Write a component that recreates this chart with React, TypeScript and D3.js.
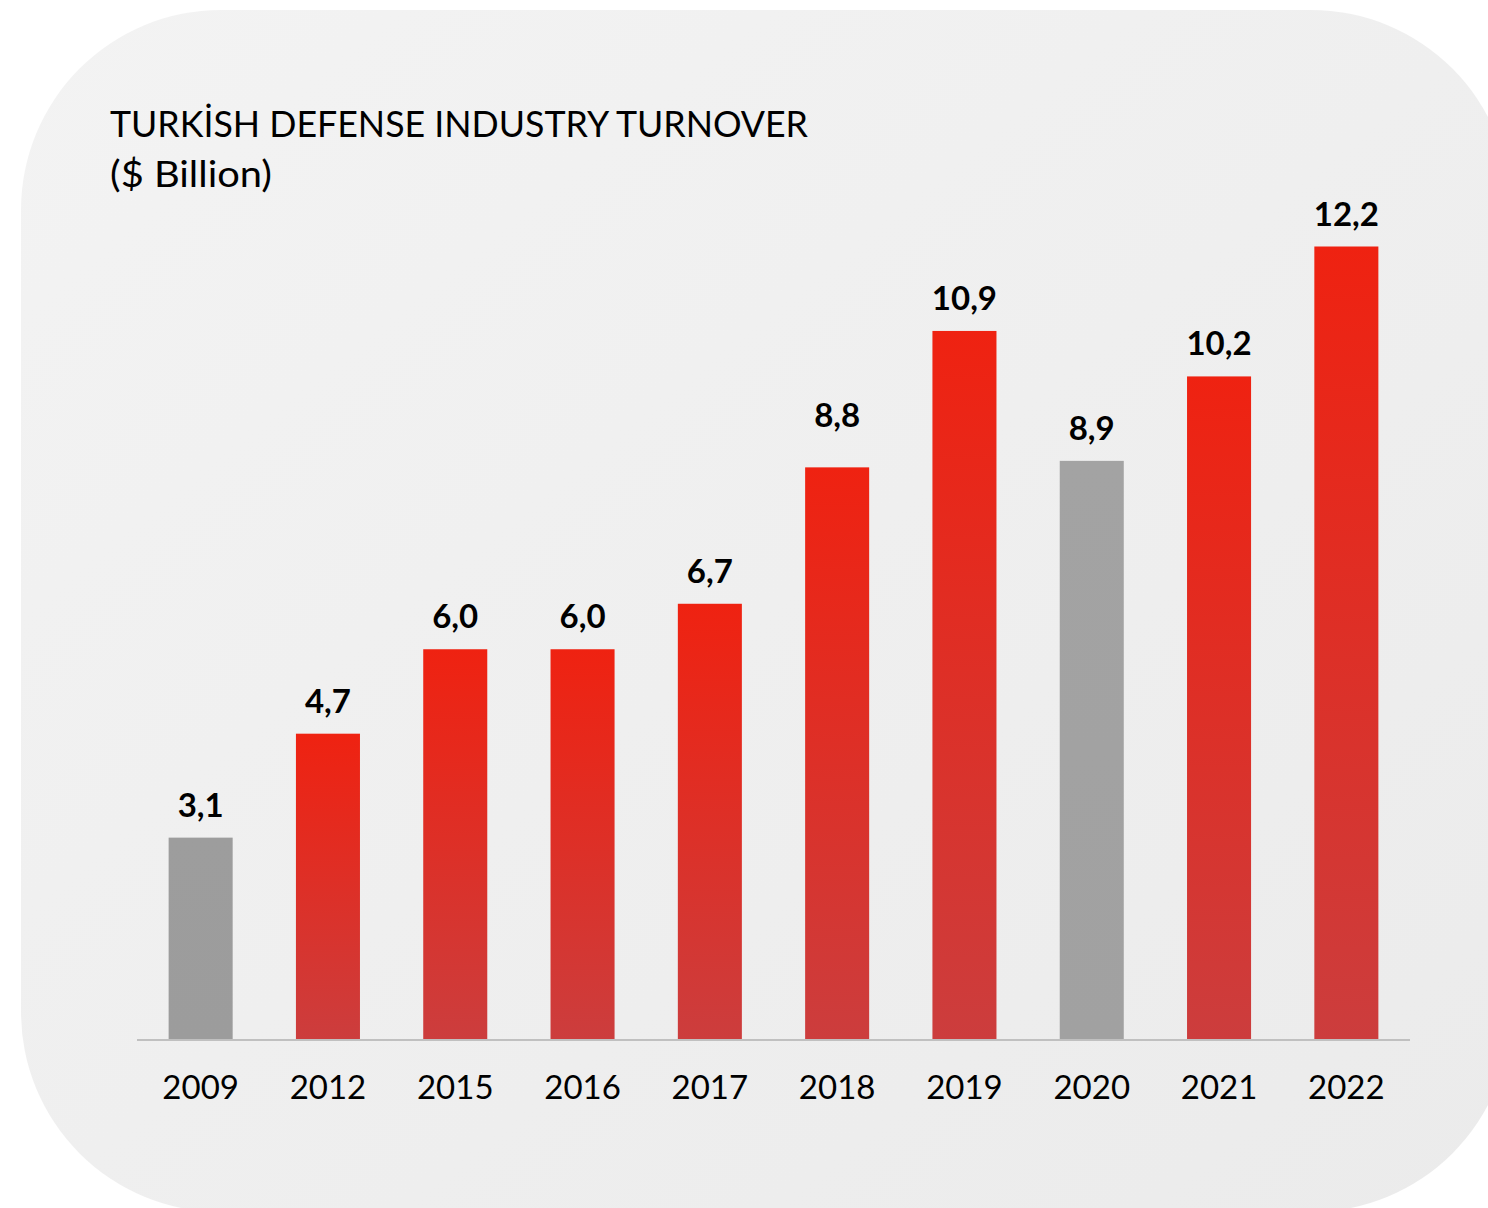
import React from "react";
import * as d3 from "d3";

const years: string[] = ["2009", "2012", "2015", "2016", "2017", "2018", "2019", "2020", "2021", "2022"];
const turnover: number[] = [3.1, 4.7, 6.0, 6.0, 6.7, 8.8, 10.9, 8.9, 10.2, 12.2];
const labels: string[] = ["3,1", "4,7", "6,0", "6,0", "6,7", "8,8", "10,9", "8,9", "10,2", "12,2"];
const grayYears: string[] = ["2009", "2020"];
const titleLines: string[] = ["TURKİSH DEFENSE INDUSTRY TURNOVER", "($ Billion)"];

const W = 1488;
const H = 1208;
const FONT = "Lato, 'Open Sans', sans-serif";
// the 2018 data label sits a little higher in the original
const raisedLabel = "2018";

export default function App() {
  const x = d3.scaleBand<string>().domain(years).range([137, 1410]).paddingInner(0.497).paddingOuter(0.2485);
  const y = d3.scaleLinear().domain([0, 12.2]).range([1039, 246.5]);
  const bw = x.bandwidth();

  return (
    <svg width={W} height={H} style={{ position: "absolute", left: 0, top: 0, background: "#fff" }}>
      <defs>
        <linearGradient id="bg" x1="0" y1="0" x2="1" y2="1">
          <stop offset="0" stopColor="#f3f3f3" />
          <stop offset="1" stopColor="#ebebeb" />
        </linearGradient>
        <linearGradient id="red" x1="0" y1="0" x2="0" y2="1">
          <stop offset="0" stopColor="#ef2211" />
          <stop offset="1" stopColor="#cc3d3d" />
        </linearGradient>
        <linearGradient id="gray1" x1="0" y1="0" x2="0" y2="1">
          <stop offset="0" stopColor="#9d9d9d" />
          <stop offset="1" stopColor="#9c9c9c" />
        </linearGradient>
        <linearGradient id="gray2" x1="0" y1="0" x2="0" y2="1">
          <stop offset="0" stopColor="#a3a3a3" />
          <stop offset="1" stopColor="#a1a1a1" />
        </linearGradient>
      </defs>
      <rect x={21} y={10} width={1490} height={1202} rx={200} ry={200} fill="url(#bg)" />
      <g fontFamily={FONT} fill="#000">
        {titleLines.map((t, i) => (
          <text key={i} x={110} y={137 + i * 50} fontSize={37} textLength={i === 0 ? 698 : 162} lengthAdjust="spacingAndGlyphs">
            {t}
          </text>
        ))}
      </g>
      <g>
        {years.map((yr, i) => (
          <rect
            key={yr}
            x={x(yr)}
            y={y(turnover[i])}
            width={bw}
            height={y(0) - y(turnover[i])}
            fill={grayYears.includes(yr) ? (i === 0 ? "url(#gray1)" : "url(#gray2)") : "url(#red)"}
          />
        ))}
      </g>
      <line x1={137} x2={1410} y1={1040} y2={1040} stroke="#c0c0c0" strokeWidth={2} />
      <g fontFamily={FONT} textAnchor="middle">
        {years.map((yr, i) => (
          <text
            key={"l" + yr}
            x={(x(yr) as number) + bw / 2}
            y={y(turnover[i]) - 21 - (yr === raisedLabel ? 19 : 0)}
            fontSize={33}
            fontWeight={700}
          >
            {labels[i]}
          </text>
        ))}
        {years.map((yr) => (
          <text key={"t" + yr} x={(x(yr) as number) + bw / 2} y={1099} fontSize={33}>
            {yr}
          </text>
        ))}
      </g>
    </svg>
  );
}
